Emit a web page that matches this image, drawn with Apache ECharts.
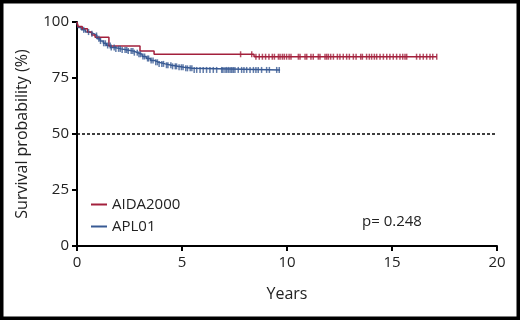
<!DOCTYPE html>
<html>
<head>
<meta charset="utf-8">
<script src="https://cdn.jsdelivr.net/npm/echarts@6/dist/echarts.min.js"></script>
<style>html,body{margin:0;padding:0;background:#fff}#c{width:520px;height:320px}</style>
</head>
<body>
<div id="c"></div>
<script>
// Kaplan-Meier step points (years, survival %)
const redTimes  = [0, 0.05, 0.25, 0.5, 0.7, 0.86, 1.52, 3.0, 3.67, 8.43];
const redValues = [100, 98, 97, 95.5, 94.2, 93.2, 89.3, 87, 85.6, 84.5];
const redEnd = 17.13;
const blueTimes  = [0, 0.05, 0.2, 0.4, 0.6, 0.8, 0.95, 1.1, 1.25, 1.4, 1.6, 1.8, 2.1, 2.4, 2.7, 2.9, 3.1, 3.3, 3.5, 3.7, 3.9, 4.2, 4.5, 4.8, 5.1, 5.5];
const blueValues = [100, 97.5, 96.5, 95.5, 94.8, 94, 92.5, 91.5, 90.5, 89.5, 88.6, 88, 87.5, 87, 86.3, 85.6, 84.6, 83.7, 82.8, 82, 81.3, 80.7, 80.2, 79.8, 79.3, 78.6];
const blueEnd = 9.67;
// censoring times (years)
const redCensor = [7.79, 8.32, 8.52, 8.68, 8.83, 8.98, 9.14, 9.30, 9.40, 9.59, 9.67, 9.78, 9.87, 9.98, 10.1, 10.19, 10.54, 10.62, 10.86, 10.94, 11.14, 11.25, 11.49, 11.57, 11.81, 11.89, 11.97, 12.08, 12.21, 12.40, 12.52, 12.68, 12.84, 12.97, 13.16, 13.29, 13.51, 13.59, 13.79, 13.92, 14.03, 14.16, 14.27, 14.43, 14.59, 14.75, 14.90, 15.06, 15.22, 15.38, 15.51, 15.62, 15.70, 16.17, 16.33, 16.49, 16.65, 16.81, 16.94, 17.13];
const blueCensor = [0.32, 0.55, 0.71, 0.93, 1.04, 1.12, 1.27, 1.35, 1.46, 1.58, 1.63, 1.77, 1.85, 1.98, 2.06, 2.15, 2.29, 2.37, 2.44, 2.58, 2.66, 2.73, 2.87, 2.95, 3.02, 3.14, 3.22, 3.36, 3.41, 3.53, 3.62, 3.75, 3.83, 3.91, 4.04, 4.12, 4.26, 4.33, 4.47, 4.55, 4.68, 4.74, 4.86, 4.97, 5.05, 5.18, 5.26, 5.39, 5.47, 5.58, 5.70, 5.86, 6.01, 6.17, 6.33, 6.49, 6.65, 6.89, 6.95, 7.05, 7.13, 7.21, 7.29, 7.37, 7.44, 7.52, 7.68, 7.84, 7.95, 8.08, 8.24, 8.40, 8.52, 8.63, 8.79, 9.03, 9.16, 9.51, 9.63];
const xTicks = [0, 5, 10, 15, 20];
const yTicks = [0, 25, 50, 75, 100];
const names = ['AIDA2000', 'APL01'];
const pText = 'p= 0.248';

const RED = '#a3203c', BLUE = '#385a94', FONT = '"Open Sans", sans-serif';

function stepData(ts, vs, end) {
  const d = ts.map((t, i) => [t, vs[i]]);
  d.push([end, vs[vs.length - 1]]);
  return d;
}
function valueAt(ts, vs, t) {
  let v = vs[0];
  for (let i = 0; i < ts.length; i++) if (ts[i] <= t) v = vs[i];
  return v;
}
const chart = echarts.init(document.getElementById('c'), null, {renderer: 'canvas'});
const axisCommon = {
  axisLine: {show: true, lineStyle: {color: '#000', width: 2}},
  axisTick: {show: true, length: 5, lineStyle: {color: '#000', width: 2}},
  splitLine: {show: false},
  axisLabel: {color: '#222', fontSize: 15, fontFamily: FONT},
  nameTextStyle: {color: '#222', fontSize: 16, fontFamily: FONT}
};
chart.setOption({
  animation: false,
  backgroundColor: '#fff',
  grid: {left: 77, right: 23, top: 22, bottom: 74, containLabel: false},
  xAxis: Object.assign({}, axisCommon, {
    type: 'value', min: xTicks[0], max: xTicks[xTicks.length - 1], interval: 5,
    name: 'Years', nameLocation: 'middle', nameGap: 40,
    axisLabel: Object.assign({}, axisCommon.axisLabel, {margin: 9})
  }),
  yAxis: Object.assign({}, axisCommon, {
    type: 'value', min: yTicks[0], max: yTicks[yTicks.length - 1], interval: 25,
    name: 'Survival probability (%)', nameLocation: 'middle', nameGap: 47,
    axisLabel: Object.assign({}, axisCommon.axisLabel, {margin: 8})
  }),
  legend: {
    orient: 'vertical', left: 86, top: 192, itemGap: 7, itemWidth: 16, itemHeight: 2,
    icon: 'rect', data: names,
    textStyle: {color: '#222', fontSize: 15, fontFamily: FONT}
  },
  graphic: [
    {type: 'text', left: 362, top: 214, style: {text: pText, fill: '#222', font: '15px ' + FONT}},
    {type: 'rect', shape: {x: 1.5, y: 1.5, width: 517, height: 317}, style: {fill: 'none', stroke: '#000', lineWidth: 4}, z: 100}
  ],
  series: [
    {name: names[0], type: 'line', step: 'end', showSymbol: false, data: stepData(redTimes, redValues, redEnd),
     lineStyle: {color: RED, width: 1.5}, itemStyle: {color: RED}, z: 3,
     markLine: {silent: true, symbol: 'none', label: {show: false},
       lineStyle: {color: '#000', type: [3, 2], width: 1.5}, data: [{yAxis: 50}]}},
    {name: names[1], type: 'line', step: 'end', showSymbol: false, data: stepData(blueTimes, blueValues, blueEnd),
     lineStyle: {color: BLUE, width: 1.5}, itemStyle: {color: BLUE}, z: 2},
    {type: 'scatter', symbol: 'rect', symbolSize: [1.5, 6], itemStyle: {color: BLUE}, z: 4,
     data: blueCensor.map(t => [t, valueAt(blueTimes, blueValues, t)])},
    {type: 'scatter', symbol: 'rect', symbolSize: [1.5, 6], itemStyle: {color: RED}, z: 5,
     data: redCensor.map(t => [t, valueAt(redTimes, redValues, t)])}
  ]
});
</script>
</body>
</html>
